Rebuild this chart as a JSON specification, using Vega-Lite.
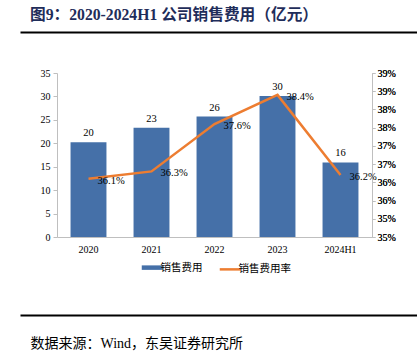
{
  "$schema": "https://vega.github.io/schema/vega-lite/v6.json",
  "autosize": {"type": "none"},
  "width": 397,
  "height": 164,
  "padding": {"left": 20, "top": 73, "right": 0, "bottom": 120},
  "background": "white",
  "config": {
    "view": {"stroke": null},
    "axis": {"labelFont": "Liberation Serif", "labelFontSize": 10, "labelColor": "#000000", "grid": false, "title": null}
  },
  "title": {
    "text": "图9：2020-2024H1 公司销售费用（亿元）",
    "anchor": "start",
    "frame": "group",
    "dx": 10,
    "offset": 8,
    "fontSize": 15.7,
    "font": "Liberation Serif, Noto Sans CJK SC",
    "fontWeight": "bold",
    "color": "#1F2D5A"
  },
  "data": {
    "values": [
      {"year": "2020", "sales": 20.2, "rate": 0.361},
      {"year": "2021", "sales": 23.3, "rate": 0.363},
      {"year": "2022", "sales": 25.7, "rate": 0.376},
      {"year": "2023", "sales": 30.1, "rate": 0.384},
      {"year": "2024H1", "sales": 15.9, "rate": 0.362}
    ]
  },
  "layer": [
    {
      "encoding": {
        "x": {
          "field": "year", "type": "nominal", "sort": null,
          "scale": {"range": [37, 352], "paddingInner": 0.43, "paddingOuter": 0.215},
          "axis": {"orient": "bottom", "domainColor": "#BFBFBF", "domainWidth": 1, "ticks": false, "labelPadding": 7, "labelAngle": 0}
        }
      },
      "layer": [
        {
          "encoding": {
            "y": {
              "field": "sales", "type": "quantitative",
              "scale": {"domain": [0, 35], "nice": false},
              "axis": {"orient": "left", "offset": -37, "values": [0, 5, 10, 15, 20, 25, 30, 35], "domainColor": "#BFBFBF", "tickColor": "#BFBFBF", "tickSize": 4, "labelPadding": 3}
            }
          },
          "layer": [
            {
              "mark": {"type": "bar"},
              "encoding": {
                "color": {
                  "datum": "销售费用", "type": "nominal",
                  "scale": {"domain": ["销售费用", "销售费用率"], "range": ["#4570A8", "#ED7D31"]},
                  "legend": {
                    "title": null,
                    "orient": "none",
                    "legendX": 127,
                    "legendY": 189,
                    "direction": "horizontal",
                    "symbolType": "stroke",
                    "symbolSize": 441,
                    "labelFont": "Noto Sans CJK SC",
                    "labelFontSize": 10.5,
                    "labelColor": "#000000",
                    "labelOffset": 3,
                    "columnPadding": 11,
                    "encode": {
                      "symbols": {
                        "update": {
                          "stroke": {"scale": "color", "field": "value"},
                          "strokeWidth": {"signal": "datum.value === '销售费用' ? 4.5 : 2.5"},
                          "opacity": {"value": 1}
                        }
                      }
                    }
                  }
                }
              }
            },
            {
              "mark": {"type": "text", "baseline": "bottom", "dy": -4, "font": "Liberation Serif", "fontSize": 10.5, "color": "#000000"},
              "encoding": {
                "text": {"field": "sales", "type": "quantitative", "format": ".0f"}
              }
            }
          ]
        },
        {
          "encoding": {
            "y": {
              "field": "rate", "type": "quantitative",
              "scale": {"domain": [0.345, 0.39], "nice": false, "zero": false},
              "axis": {"orient": "right", "offset": -45, "values": [0.345, 0.35, 0.355, 0.36, 0.365, 0.37, 0.375, 0.38, 0.385, 0.39], "labelExpr": "floor(datum.value * 100 + 0.5 + 0.000001) + '%'", "domainColor": "#BFBFBF", "tickColor": "#BFBFBF", "tickSize": 3, "labelPadding": 2}
            }
          },
          "layer": [
            {
              "mark": {"type": "line", "strokeWidth": 2.5},
              "encoding": {
                "color": {"datum": "销售费用率", "type": "nominal"}
              }
            },
            {
              "mark": {"type": "text", "align": "left", "baseline": "middle", "dx": 9, "dy": 2, "font": "Liberation Serif", "fontSize": 10.5, "color": "#000000"},
              "encoding": {
                "text": {"field": "rate", "type": "quantitative", "format": ".1%"}
              }
            }
          ],
          "resolve": {"axis": {"y": "independent"}}
        }
      ],
      "resolve": {"scale": {"y": "independent"}}
    },
    {
      "mark": {"type": "rule", "opacity": 0},
      "encoding": {
        "x": {
          "field": "year", "type": "nominal", "sort": null,
          "axis": {"orient": "top", "offset": 41, "domainColor": "#000000", "domainWidth": 2, "ticks": false, "labels": false}
        }
      }
    },
    {
      "mark": {"type": "rule", "opacity": 0},
      "encoding": {
        "x": {
          "field": "year", "type": "nominal", "sort": null,
          "axis": {
            "orient": "bottom", "offset": 78, "domainColor": "#000000", "domainWidth": 2, "ticks": false, "labels": false,
            "title": "数据来源：Wind，东吴证券研究所",
            "titleFont": "Liberation Serif, Noto Sans CJK SC",
            "titleFontSize": 14,
            "titleFontWeight": "normal",
            "titleColor": "#000000",
            "titleAnchor": "start",
            "titleAlign": "left",
            "titleBaseline": "middle",
            "titleX": 10,
            "titleY": 28
          }
        }
      }
    }
  ],
  "resolve": {"scale": {"x": "independent"}, "axis": {"x": "independent"}}
}
